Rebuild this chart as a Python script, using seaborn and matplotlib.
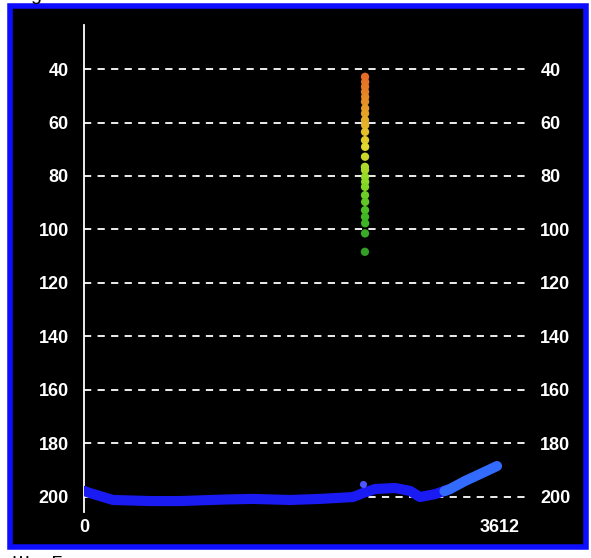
import numpy as np
import pandas as pd
import matplotlib
matplotlib.use("Agg")
import matplotlib.pyplot as plt
from matplotlib.colors import LinearSegmentedColormap
from matplotlib.patches import Rectangle
import seaborn as sns

# --- data -------------------------------------------------------------
# depth profile (blue trace)
trace_x = [0, 52, 252, 573, 834, 1242, 1467, 1789, 2049, 2336, 2423,
           2527, 2700, 2831, 2917, 3048, 3178]
trace_y = [197.9, 198.7, 201.3, 201.7, 201.7, 201.1, 200.9, 201.3, 200.9,
           200.2, 198.7, 197.2, 196.8, 197.9, 200.2, 199.1, 197.2]
# recent part of the trace (lighter blue)
recent_x = [3130, 3178, 3308, 3438, 3586]
recent_y = [198.0, 197.2, 194.2, 191.6, 188.6]
# isolated sample
spot_x = [2423]
spot_y = [195.3]

# vertical column of coloured readings
column_x = [2440, 2441, 2440, 2440, 2441, 2440, 2441, 2440, 2440, 2441,
            2440, 2440, 2441, 2440, 2439, 2440, 2440, 2441, 2440, 2440,
            2441, 2440, 2440, 2441, 2440, 2439]
column_y = [42.9, 44.8, 46.6, 48.5, 50.4, 52.2, 54.7, 56.6, 59.1, 61.0,
            63.5, 66.6, 69.1, 72.8, 76.6, 77.8, 80.3, 82.2, 84.1, 87.2,
            89.7, 92.8, 95.3, 97.7, 101.5, 108.4]

y_ticks = [40, 60, 80, 100, 120, 140, 160, 180, 200]
x_ticks = [0, 3612]

# --- figure -----------------------------------------------------------
sns.set_theme(style="dark")
plt.rcParams["font.family"] = ["Liberation Sans", "DejaVu Sans"]

W, H = 591, 558
fig = plt.figure(figsize=(W / 100, H / 100), dpi=100, facecolor="white")

# blue framed panel on a background layer
bg = fig.add_axes([0, 0, 1, 1], zorder=-1)
bg.set_axis_off()
bg.set_xlim(0, W)
bg.set_ylim(H, 0)
bg.add_patch(Rectangle((10, 6), 576, 541, facecolor="black",
                       edgecolor=(0.05, 0.05, 1.0), linewidth=4))

ax = fig.add_axes([84 / W, 1 - 512 / H, (525 - 84) / W, (512 - 25) / H],
                  zorder=1)
ax.set_facecolor("black")
ax.patch.set_alpha(0.0)

ax.set_xlim(0, 3829)
ax.set_ylim(205.8, 23.5)

# dashed grid
for v in y_ticks:
    ax.axhline(v, color="white", lw=1.3, ls=(0, (4, 3.5)), zorder=1)

# blue trace
sns.lineplot(x=trace_x, y=trace_y, ax=ax, color=(0.1, 0.1, 0.95),
             linewidth=7.3, estimator=None, sort=False, zorder=3)
ax.lines[-1].set_solid_capstyle("round")
ax.lines[-1].set_solid_joinstyle("round")
sns.lineplot(x=recent_x, y=recent_y, ax=ax, color=(0.2, 0.42, 1.0),
             linewidth=7.3, estimator=None, sort=False, zorder=4)
ax.lines[-1].set_solid_capstyle("round")
ax.lines[-1].set_solid_joinstyle("round")
sns.scatterplot(x=spot_x, y=spot_y, ax=ax, color=(0.3, 0.35, 1.0), s=26,
                linewidth=0, zorder=5)

# coloured column
cmap = LinearSegmentedColormap.from_list(
    "column", [(0.90, 0.42, 0.15), (0.90, 0.62, 0.15), (0.88, 0.84, 0.18),
               (0.55, 0.85, 0.15), (0.25, 0.72, 0.15), (0.20, 0.62, 0.15)])
df = pd.DataFrame({"x": column_x, "y": column_y})
sns.scatterplot(data=df, x="x", y="y", hue="y", palette=cmap, ax=ax,
                s=36, linewidth=0, legend=False, zorder=6)

# axes styling
for side in ("top", "right", "bottom"):
    ax.spines[side].set_visible(False)
ax.spines["left"].set_color("white")
ax.spines["left"].set_linewidth(1.3)
ax.grid(False)

ax.set_yticks(y_ticks)
ax.set_yticklabels([str(v) for v in y_ticks])
ax.set_xticks(x_ticks)
ax.set_xticklabels([str(v) for v in x_ticks])
ax.tick_params(axis="y", length=0, pad=11, labelcolor="white",
               labelsize=13, labelleft=True, labelright=True)
ax.tick_params(axis="x", length=0, pad=5, labelcolor="white",
               labelsize=13)
for lab in ax.get_xticklabels() + ax.get_yticklabels():
    lab.set_fontweight("bold")
for lab in ax.yaxis.get_ticklabels(which="both"):
    lab.set_fontweight("bold")
ax.set_xlabel("")
ax.set_ylabel("")

# fragments of surrounding caption text
fig.text(30 / W, 1 + 0.5 / H, "g", color="black", fontsize=14,
         ha="left", va="baseline")
fig.text(12 / W, 1 - 569 / H, "Ш    Г", color="black", fontsize=14,
         ha="left", va="baseline")

fig.savefig("out.png", dpi=100, facecolor="white")
